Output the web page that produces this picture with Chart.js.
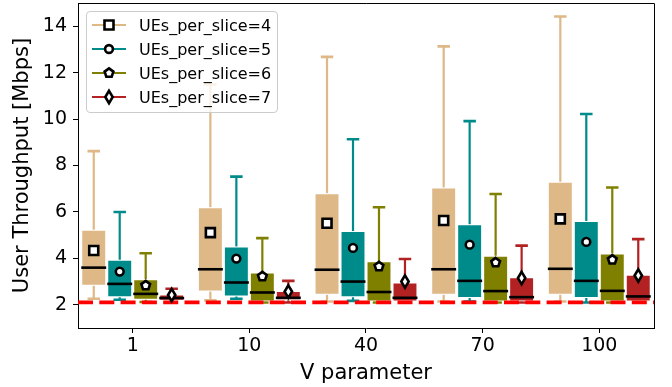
<!DOCTYPE html>
<html>
<head>
<meta charset="utf-8">
<script src="https://cdn.jsdelivr.net/npm/chart.js@4.4.1/dist/chart.umd.min.js"></script>
<style>
  body { margin: 0; background: #fff; font-family: 'DejaVu Sans', sans-serif; }
  #wrap { position: relative; width: 672px; height: 387px; }
  #legend {
    position: absolute; left: 86px; top: 11px; width: 192px; height: 102px;
    box-sizing: border-box; border: 1px solid #cccccc; border-radius: 4px;
    background: rgba(255, 255, 255, 0.8); padding-top: 1px;
  }
  .row { display: flex; align-items: center; height: 24px; font-size: 16px; color: #000; white-space: nowrap; }
  .row canvas { margin-left: 5px; margin-right: 13px; }
</style>
</head>
<body>
<div id="wrap">
  <canvas id="chart" width="672" height="387"></canvas>
  <div id="legend"></div>
</div>
<script>
// --- data ---
const vLabels = ['1', '10', '40', '70', '100'];
const sliceLabels = ['UEs_per_slice=4', 'UEs_per_slice=5', 'UEs_per_slice=6', 'UEs_per_slice=7'];
const yTicks = [2, 4, 6, 8, 10, 12, 14];

// one row per UEs_per_slice series, one value per V parameter
const whiskerHigh = [
  [8.62, 11.49, 12.68, 13.13, 14.42],
  [6.00, 7.52, 9.13, 9.91, 10.22],
  [4.22, 4.87, 6.20, 6.77, 7.05],
  [2.69, 3.03, 3.97, 4.55, 4.83]
];
const boxHigh = [
  [5.23, 6.20, 6.80, 7.05, 7.30],
  [3.94, 4.51, 5.18, 5.47, 5.61],
  [3.10, 3.39, 3.88, 4.11, 4.21],
  [2.44, 2.59, 2.96, 3.19, 3.29]
];
const medians = [
  [3.60, 3.53, 3.51, 3.53, 3.55],
  [2.90, 2.96, 3.00, 3.03, 3.03],
  [2.47, 2.53, 2.55, 2.59, 2.60],
  [2.29, 2.30, 2.30, 2.33, 2.36]
];
const means = [
  [4.34, 5.11, 5.51, 5.63, 5.70],
  [3.43, 3.99, 4.45, 4.59, 4.71],
  [2.83, 3.22, 3.65, 3.82, 3.94],
  [2.42, 2.57, 3.00, 3.15, 3.26]
];
const boxLow = [
  [2.82, 2.57, 2.43, 2.43, 2.43],
  [2.33, 2.36, 2.33, 2.29, 2.29],
  [2.22, 2.14, 2.14, 2.14, 2.14],
  [2.17, 2.20, 2.14, 2.14, 2.14]
];
const whiskerLow = [
  [2.26, 2.19, 2.14, 2.14, 2.14],
  [2.22, 2.26, 2.17, 2.14, 2.10],
  [2.12, 2.10, 2.10, 2.10, 2.10],
  [2.10, 2.10, 2.10, 2.10, 2.10]
];
const threshold = 2.1;

const colors = ['#deb887', '#008b8b', '#808000', '#b22222'];
const markers = ['square', 'circle', 'pentagon', 'thinDiamond'];
const xMin = -0.469, xMax = 4.469;

Chart.defaults.font.family = "'DejaVu Sans', sans-serif";
Chart.defaults.color = '#000';

// white marker with black edge, like matplotlib meanprops
function drawMarker(ctx, kind, x, y) {
  ctx.save();
  ctx.beginPath();
  if (kind === 'square') {
    ctx.rect(x - 4.5, y - 4.5, 9, 9);
  } else if (kind === 'circle') {
    ctx.arc(x, y, 3.9, 0, Math.PI * 2);
  } else if (kind === 'pentagon') {
    for (let k = 0; k < 5; k++) {
      const a = -Math.PI / 2 + k * 2 * Math.PI / 5;
      const px = x + 4.6 * Math.cos(a), py = y + 4.6 * Math.sin(a);
      k === 0 ? ctx.moveTo(px, py) : ctx.lineTo(px, py);
    }
    ctx.closePath();
  } else {
    ctx.moveTo(x, y - 6.2);
    ctx.lineTo(x + 3.7, y);
    ctx.lineTo(x, y + 6.2);
    ctx.lineTo(x - 3.7, y);
    ctx.closePath();
  }
  ctx.fillStyle = '#fff';
  ctx.fill();
  ctx.lineWidth = 2.6;
  ctx.lineJoin = 'miter';
  ctx.strokeStyle = '#000';
  ctx.stroke();
  ctx.restore();
}

// whiskers, caps, medians and means drawn from the bar elements + y scale
const boxDetails = {
  id: 'boxDetails',
  beforeDatasetsDraw(chart) {
    const ctx = chart.ctx, y = chart.scales.y;
    ctx.save();
    colors.forEach((c, s) => {
      chart.getDatasetMeta(s).data.forEach((bar, i) => {
        const cap = bar.width / 4;
        ctx.strokeStyle = c;
        ctx.lineWidth = 2.2;
        ctx.beginPath();
        ctx.moveTo(bar.x, y.getPixelForValue(whiskerLow[s][i]));
        ctx.lineTo(bar.x, y.getPixelForValue(boxLow[s][i]));
        ctx.moveTo(bar.x, y.getPixelForValue(boxHigh[s][i]));
        ctx.lineTo(bar.x, y.getPixelForValue(whiskerHigh[s][i]));
        ctx.stroke();
        ctx.lineWidth = 2.6;
        ctx.beginPath();
        [whiskerLow[s][i], whiskerHigh[s][i]].forEach(v => {
          const py = y.getPixelForValue(v);
          ctx.moveTo(bar.x - cap, py);
          ctx.lineTo(bar.x + cap, py);
        });
        ctx.stroke();
      });
    });
    ctx.restore();
  },
  afterDatasetsDraw(chart) {
    const ctx = chart.ctx, y = chart.scales.y, area = chart.chartArea;
    ctx.save();
    colors.forEach((c, s) => {
      chart.getDatasetMeta(s).data.forEach((bar, i) => {
        const py = y.getPixelForValue(medians[s][i]);
        ctx.strokeStyle = '#000';
        ctx.lineWidth = 2.6;
        ctx.beginPath();
        ctx.moveTo(bar.x - bar.width / 2, py);
        ctx.lineTo(bar.x + bar.width / 2, py);
        ctx.stroke();
        drawMarker(ctx, markers[s], bar.x, y.getPixelForValue(means[s][i]));
      });
    });
    // top and right spines
    ctx.strokeStyle = '#000';
    ctx.lineWidth = 1;
    ctx.beginPath();
    ctx.moveTo(area.left, area.top + 0.5);
    ctx.lineTo(area.right + 0.5, area.top + 0.5);
    ctx.lineTo(area.right + 0.5, area.bottom);
    ctx.stroke();
    ctx.restore();
  }
};

const datasets = sliceLabels.map((label, s) => ({
  label: label,
  data: vLabels.map((v, i) => ({ x: i, y: [boxLow[s][i], boxHigh[s][i]] })),
  backgroundColor: colors[s],
  borderColor: 'rgba(255,255,255,0.45)',
  borderWidth: 1,
  borderSkipped: false,
  categoryPercentage: 0.891,
  barPercentage: 0.96,
  order: 2
}));

datasets.push({
  type: 'line',
  label: 'threshold',
  data: [{ x: xMin, y: threshold }, { x: xMax, y: threshold }],
  borderColor: '#ff0000',
  borderWidth: 3.8,
  borderDash: [15, 6.3],
  pointRadius: 0,
  order: 0
});

new Chart(document.getElementById('chart'), {
  type: 'bar',
  data: { datasets: datasets },
  options: {
    responsive: false,
    animation: false,
    layout: { padding: { top: 3, right: 18, left: 0, bottom: 0 } },
    plugins: { legend: { display: false }, tooltip: { enabled: false } },
    scales: {
      x: {
        type: 'linear',
        offset: false,
        min: xMin,
        max: xMax,
        afterBuildTicks: axis => { axis.ticks = vLabels.map((v, i) => ({ value: i })); },
        afterFit: axis => { axis.height = 59; axis.paddingLeft = 0; axis.paddingRight = 0; },
        ticks: { callback: v => vLabels[v], font: { size: 19 }, padding: 2, maxRotation: 0, autoSkip: false },
        grid: { offset: false, drawOnChartArea: false, tickLength: 5, tickColor: '#000' },
        border: { color: '#000', width: 1 },
        title: { display: true, text: 'V parameter', font: { size: 21 }, padding: { top: 0, bottom: 1 } }
      },
      y: {
        min: 1,
        max: 15,
        afterBuildTicks: axis => { axis.ticks = yTicks.map(v => ({ value: v })); },
        afterFit: axis => { axis.width = 78; axis.paddingTop = 0; axis.paddingBottom = 0; },
        ticks: { font: { size: 19 }, padding: 6 },
        grid: { drawOnChartArea: false, tickLength: 5, tickColor: '#000' },
        border: { color: '#000', width: 1 },
        title: { display: true, text: 'User Throughput [Mbps]', font: { size: 21 }, padding: { top: 10, bottom: 0 } }
      }
    }
  },
  plugins: [boxDetails]
});

// legend: line in series colour with the mean marker on it
const legend = document.getElementById('legend');
sliceLabels.forEach((label, s) => {
  const row = document.createElement('div');
  row.className = 'row';
  const glyph = document.createElement('canvas');
  glyph.width = 34;
  glyph.height = 20;
  const g = glyph.getContext('2d');
  g.strokeStyle = colors[s];
  g.lineWidth = 2;
  g.beginPath();
  g.moveTo(0, 10);
  g.lineTo(34, 10);
  g.stroke();
  drawMarker(g, markers[s], 17, 10);
  const text = document.createElement('span');
  text.textContent = label;
  row.appendChild(glyph);
  row.appendChild(text);
  legend.appendChild(row);
});
</script>
</body>
</html>
